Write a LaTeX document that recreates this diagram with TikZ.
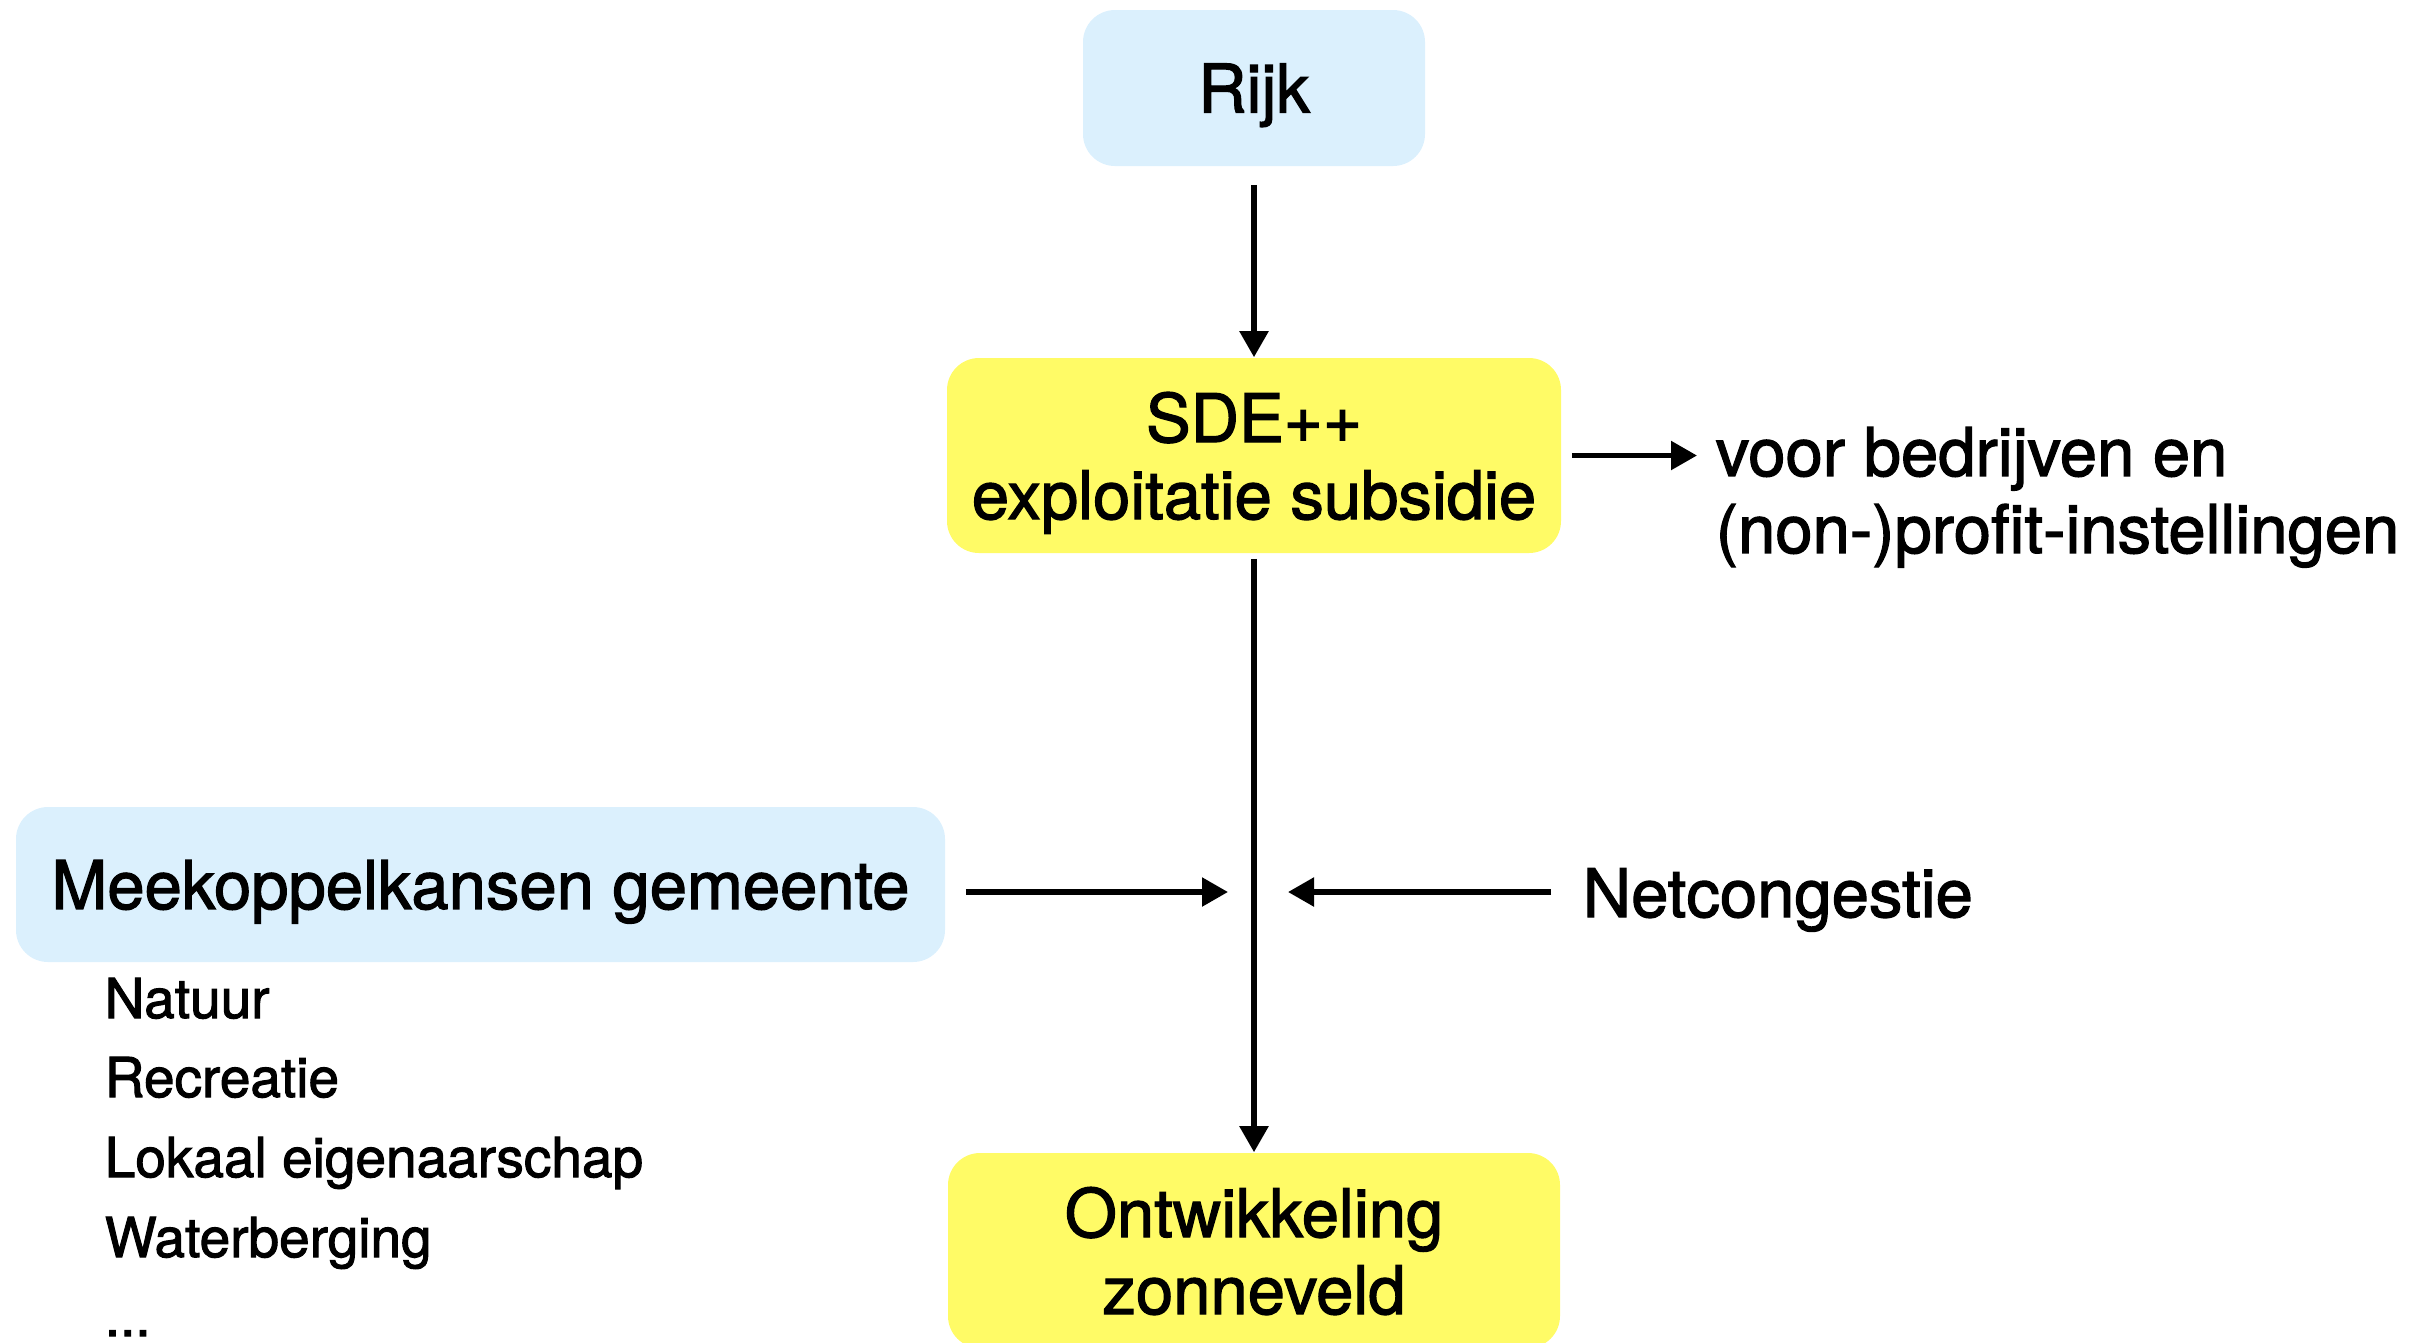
\documentclass[tikz,border=0pt]{standalone}
\usepackage{fontspec}
\setmainfont{TeX Gyre Heros}[UprightFeatures={FakeBold=1.8}]
\usetikzlibrary{arrows.meta}
\definecolor{boxblue}{RGB}{219,240,253}
\definecolor{boxyellow}{RGB}{255,251,102}
\begin{document}
\begin{tikzpicture}[x=0.25pt,y=-0.25pt,
  bigtext/.style={font=\fontsize{16.75pt}{19.25pt}\selectfont},
  smalltext/.style={font=\fontsize{13.75pt}{16.5pt}\selectfont},
  box/.style={rounded corners=8pt, inner sep=0pt, align=center, bigtext, text depth=0pt},
  bluebox/.style={box, fill=boxblue},
  yellowbox/.style={box, fill=boxyellow},
  txt/.style={inner sep=0pt, bigtext},
  listitem/.style={inner sep=0pt, smalltext, anchor=base west},
  arr/.style={line width=1.35pt, -{Triangle[length=6.5pt,width=7pt]}}
]
\useasboundingbox (0,0) rectangle (2432,1342);
\clip (0,0) rectangle (2432,1342);

\node[bluebox, minimum width=85.5pt, minimum height=39pt] (rijk) at (1254,88) {Rijk};
\node[yellowbox, minimum width=153.5pt, minimum height=48.75pt] (sde) at (1254,455.5) {SDE++\\exploitatie subsidie};
\node[yellowbox, minimum width=153pt, minimum height=48.75pt] (ont) at (1254,1250.5) {Ontwikkeling\\zonneveld};
\node[bluebox, minimum width=232.25pt, minimum height=38.75pt] (meek) at (480.5,884.5) {Meekoppelkansen gemeente};

\node[txt, align=left, anchor=west, text depth=0pt] (voor) at (1715,490) {voor bedrijven en\\(non-)profit-instellingen};
\node[txt, anchor=base west] (net) at (1582,917) {Netcongestie};

\node[listitem] (l1) at (104,1018) {Natuur};
\node[listitem] (l2) at (104,1097) {Recreatie};
\node[listitem] (l3) at (104,1177) {Lokaal eigenaarschap};
\node[listitem] (l4) at (104,1257) {Waterberging};
\node[listitem] (l5) at (104,1336) {...};

\coordinate (junc) at (1254,892);

\draw[arr, shorten <=4.5pt] (rijk.south) -- (sde.north);
\draw[arr, shorten <=1.25pt] (sde.south) -- (ont.north);
\draw[arr, shorten <=2.5pt, shorten >=4.5pt] (sde.east) -- (sde.east -| voor.west);
\draw[arr, shorten <=5pt, shorten >=6.5pt] (meek.east |- junc) -- (junc);
\draw[arr, shorten <=7.75pt, shorten >=8.5pt] (net.west |- junc) -- (junc);
\end{tikzpicture}
\end{document}
